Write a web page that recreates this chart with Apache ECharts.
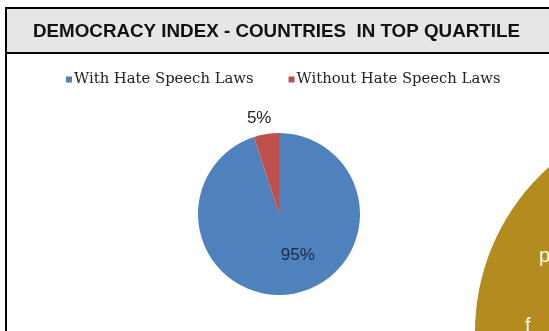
<!DOCTYPE html>
<html>
<head>
<meta charset="utf-8">
<script src="https://cdn.jsdelivr.net/npm/echarts@6/dist/echarts.min.js"></script>
<style>
html,body{margin:0;padding:0;background:#fff;}
#chart{width:549px;height:331px;}
</style>
</head>
<body>
<div id="chart"></div>
<script>
// Share of top-quartile democracies with / without hate speech laws
const categories = ['With Hate Speech Laws', 'Without Hate Speech Laws'];
const shares = [95, 5];
const colors = ['#4f81bd', '#c0504d'];
const titleText = 'DEMOCRACY INDEX - COUNTRIES  IN TOP QUARTILE';

const chart = echarts.init(document.getElementById('chart'), null, { renderer: 'canvas' });

const pieData = categories.map((name, i) => ({
  name: name,
  value: shares[i],
  itemStyle: { color: colors[i] },
  label: i === 0
    ? { position: 'inside', offset: [12, -2], color: '#1b2a45' }
    : { position: 'outside', color: '#222' }
}));

chart.setOption({
  animation: false,
  backgroundColor: '#ffffff',
  graphic: [
    // header band
    { type: 'rect', shape: { x: 6, y: 8, width: 560, height: 45 }, style: { fill: '#e6e6e6' }, z: -10 },
    { type: 'line', shape: { x1: 5, y1: 8, x2: 549, y2: 8 }, style: { stroke: '#000', lineWidth: 2 }, z: -5 },
    { type: 'line', shape: { x1: 5, y1: 53, x2: 549, y2: 53 }, style: { stroke: '#000', lineWidth: 2 }, z: -5 },
    { type: 'line', shape: { x1: 6, y1: 7, x2: 6, y2: 331 }, style: { stroke: '#000', lineWidth: 2 }, z: -5 },
    // decorative gold disc in the lower right
    { type: 'circle', shape: { cx: 696, cy: 332, r: 221 }, style: { fill: '#b48b1f' }, z: 10 },
    { type: 'text', x: 539, y: 246, style: { text: 'p', fill: '#ffffff', font: '20px "Liberation Sans", Arial, sans-serif' }, z: 11 },
    { type: 'text', x: 525, y: 316, style: { text: 'f', fill: '#ffffff', font: '20px "Liberation Sans", Arial, sans-serif' }, z: 11 }
  ],
  title: {
    text: titleText,
    left: 33,
    top: 22,
    padding: 0,
    textStyle: {
      fontFamily: '"Liberation Sans", Arial, sans-serif',
      fontWeight: 'bold',
      fontSize: 18.8,
      color: '#111'
    }
  },
  legend: {
    data: categories,
    left: 66,
    top: 72,
    padding: 0,
    icon: 'rect',
    itemWidth: 6,
    itemHeight: 6,
    itemGap: 35,
    textStyle: {
      fontFamily: '"DejaVu Serif", serif',
      fontSize: 14.8,
      color: '#222',
      padding: [0, 0, 0, -3]
    }
  },
  series: [{
    type: 'pie',
    center: [279, 214],
    radius: 81,
    startAngle: 90,
    clockwise: true,
    data: pieData,
    label: {
      show: true,
      formatter: '{c}%',
      fontSize: 17,
      fontFamily: '"Liberation Sans", Arial, sans-serif'
    },
    labelLine: { show: false, length: 12, length2: 0 },
    labelLayout: function (params) {
      // nudge the small-slice label so it sits centred above its wedge
      if (params.dataIndex === 1) {
        return { dx: 12, dy: -4 };
      }
    },
    itemStyle: { borderWidth: 0 }
  }]
});
</script>
</body>
</html>
